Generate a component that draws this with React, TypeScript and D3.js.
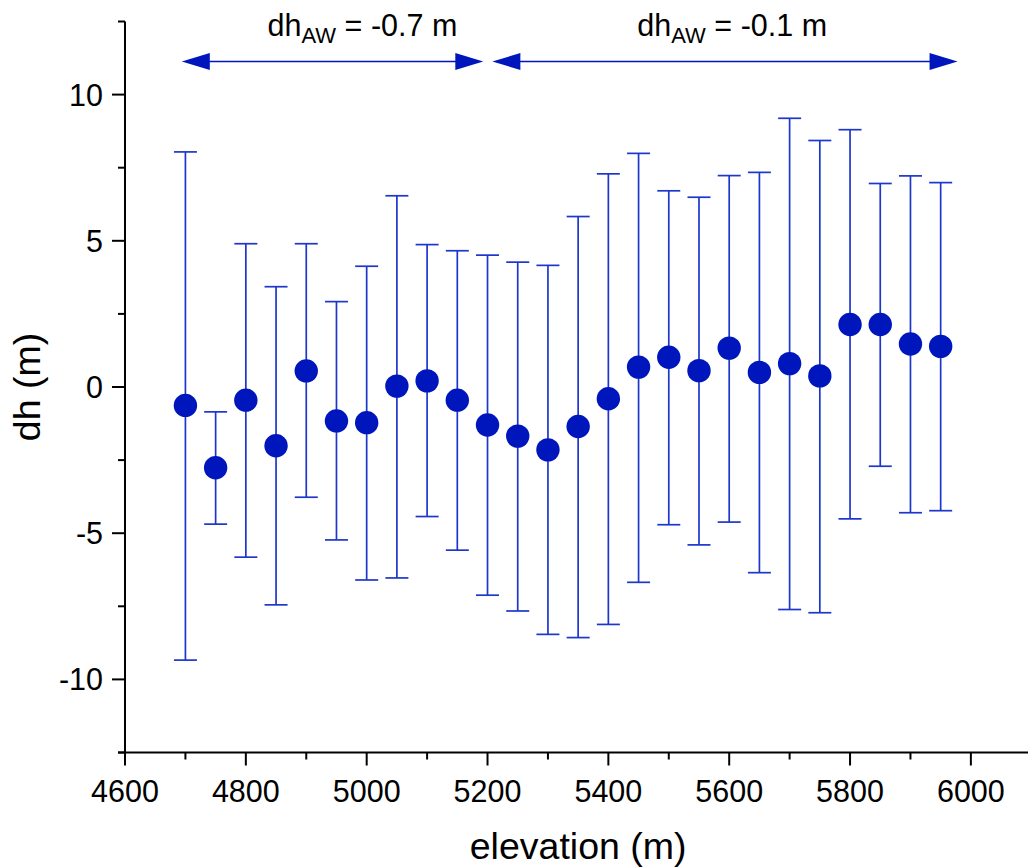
import React from "react";
import * as d3 from "d3";

const elevation = [4700, 4750, 4800, 4850, 4900, 4950, 5000, 5050, 5100, 5150, 5200, 5250, 5300, 5350, 5400, 5450, 5500, 5550, 5600, 5650, 5700, 5750, 5800, 5850, 5900, 5950];
const dhMean = [-0.63, -2.76, -0.45, -2.01, 0.55, -1.16, -1.22, 0.03, 0.21, -0.45, -1.3, -1.68, -2.15, -1.35, -0.4, 0.68, 1.02, 0.56, 1.33, 0.5, 0.8, 0.38, 2.14, 2.14, 1.47, 1.39];
const dhUpper = [8.04, -0.85, 4.9, 3.43, 4.9, 2.92, 4.13, 6.54, 4.87, 4.66, 4.51, 4.27, 4.16, 5.83, 7.29, 7.99, 6.71, 6.49, 7.23, 7.34, 9.19, 8.43, 8.8, 6.96, 7.22, 6.99];
const dhLower = [-9.34, -4.69, -5.82, -7.45, -3.77, -5.23, -6.6, -6.53, -4.43, -5.58, -7.12, -7.66, -8.46, -8.57, -8.12, -6.68, -4.71, -5.4, -4.62, -6.35, -7.61, -7.72, -4.51, -2.71, -4.3, -4.23];

const xMajorTicks = [4600, 4800, 5000, 5200, 5400, 5600, 5800, 6000];
const yMajorTicks = [-10, -5, 0, 5, 10];

const annotations = [
  { from: 4694, to: 5193, label: "-0.7 m", at: 4993 },
  { from: 5208, to: 5978, label: "-0.1 m", at: 5605 },
];

const FONT = "'Liberation Sans', Arial, sans-serif";
const BLUE = "#0016bd";
const BAR = "#1d36cc";

export default function App() {
  const W = 1028;
  const H = 868;
  const x = d3.scaleLinear().domain([4600, 6100]).range([125, 125 + 1500 * 0.6042]);
  const y = d3.scaleLinear().domain([-12.5, 12.5]).range([752.5, 21.5]);

  const xMinor = d3.range(4600, 6101, 100).filter((v) => !xMajorTicks.includes(v));
  const yMinor = d3.range(-12.5, 12.51, 2.5).filter((v) => !yMajorTicks.includes(Math.round(v * 100) / 100));

  const x0 = x(4600);
  const yb = y(-12.5);
  const cap = 11.5;
  const arrowY = 61.5;
  const headL = 28;
  const headH = 8.5;

  return (
    <svg width={W} height={H} style={{ position: "absolute", left: 0, top: 0, background: "#fff" }}>
      {/* error bars */}
      <g stroke={BAR} strokeWidth={1.7} fill="none">
        {elevation.map((e, i) => (
          <g key={i}>
            <line x1={x(e)} x2={x(e)} y1={y(dhUpper[i])} y2={y(dhLower[i])} />
            <line x1={x(e) - cap} x2={x(e) + cap} y1={y(dhUpper[i])} y2={y(dhUpper[i])} />
            <line x1={x(e) - cap} x2={x(e) + cap} y1={y(dhLower[i])} y2={y(dhLower[i])} />
          </g>
        ))}
      </g>
      {/* markers */}
      <g fill={BLUE}>
        {elevation.map((e, i) => (
          <circle key={i} cx={x(e)} cy={y(dhMean[i])} r={11.7} />
        ))}
      </g>

      {/* axes */}
      <g stroke="#000" strokeWidth={2}>
        <line x1={x0} x2={x0} y1={y(12.5)} y2={yb + 1} />
        <line x1={x0 - 7} x2={W} y1={yb} y2={yb} />
        {yMajorTicks.map((t) => (
          <line key={"ym" + t} x1={x0 - 13} x2={x0} y1={y(t)} y2={y(t)} />
        ))}
        {yMinor.map((t) => (
          <line key={"yn" + t} x1={x0 - 7} x2={x0} y1={y(t)} y2={y(t)} />
        ))}
        {xMajorTicks.map((t) => (
          <line key={"xm" + t} x1={x(t)} x2={x(t)} y1={yb} y2={yb + 13} />
        ))}
        {xMinor.map((t) => (
          <line key={"xn" + t} x1={x(t)} x2={x(t)} y1={yb} y2={yb + 7} />
        ))}
      </g>
      <g fontFamily={FONT} fontSize={30.5} fill="#000">
        {yMajorTicks.map((t) => (
          <text key={"yl" + t} x={x0 - 22} y={y(t) + 11} textAnchor="end">
            {t}
          </text>
        ))}
        {xMajorTicks.map((t) => (
          <text key={"xl" + t} x={x(t)} y={802} textAnchor="middle">
            {t}
          </text>
        ))}
      </g>
      <text x={(x0 + x(6100)) / 2} y={859} textAnchor="middle" fontFamily={FONT} fontSize={37.5}>
        elevation (m)
      </text>
      <text
        transform={`translate(40, ${y(0)}) rotate(-90)`}
        textAnchor="middle"
        fontFamily={FONT}
        fontSize={37.5}
      >
        dh (m)
      </text>

      {/* annotations */}
      {annotations.map((a, i) => {
        const xa = x(a.from);
        const xb = x(a.to);
        return (
          <g key={i}>
            <line x1={xa + headL - 2} x2={xb - headL + 2} y1={arrowY} y2={arrowY} stroke={BLUE} strokeWidth={1.3} />
            <polygon
              points={`${xa},${arrowY} ${xa + headL},${arrowY - headH} ${xa + headL},${arrowY + headH}`}
              fill={BLUE}
            />
            <polygon
              points={`${xb},${arrowY} ${xb - headL},${arrowY - headH} ${xb - headL},${arrowY + headH}`}
              fill={BLUE}
            />
            <text x={x(a.at)} y={35.5} textAnchor="middle" fontFamily={FONT} fontSize={30.5} fill="#000">
              dh
              <tspan fontSize={22} dy={7}>AW</tspan>
              <tspan dy={-7}>{" = " + a.label}</tspan>
            </text>
          </g>
        );
      })}
    </svg>
  );
}
